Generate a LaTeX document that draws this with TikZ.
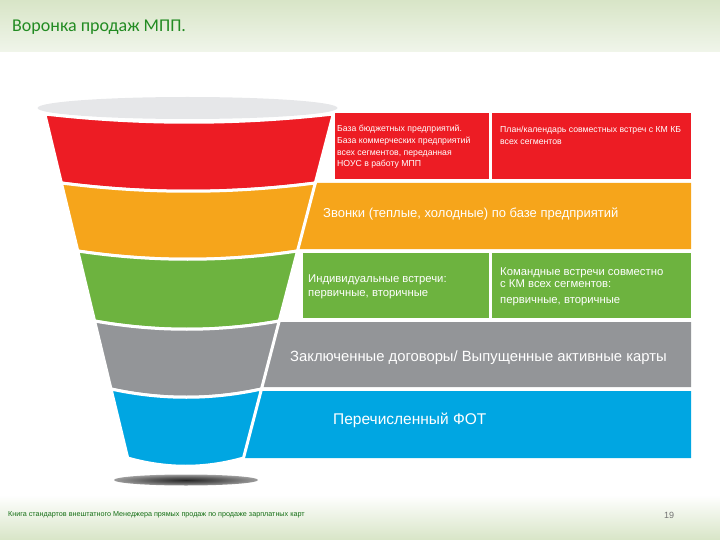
\documentclass[tikz,border=0pt]{standalone}
\usepackage{fontspec}
\setmainfont{Liberation Sans}
\newfontfamily\titlefont{Carlito}
\definecolor{funred}{RGB}{237,28,36}
\definecolor{funorange}{RGB}{246,165,27}
\definecolor{fungreen}{RGB}{109,179,63}
\definecolor{fungray}{RGB}{147,149,152}
\definecolor{funblue}{RGB}{0,166,226}
\definecolor{funrim}{RGB}{230,231,233}
\definecolor{titlegreen}{RGB}{34,139,34}
\definecolor{footgreen}{RGB}{20,110,20}
\definecolor{bandtop}{RGB}{216,229,199}
\definecolor{bandlow}{RGB}{240,245,234}
\pgfdeclareradialshading{funshadow}{\pgfpoint{0bp}{0bp}}{color(0bp)=(black!85); color(12bp)=(black!65); color(32bp)=(black!25); color(50bp)=(white)}
\tikzset{
	band/.style={draw=white,line width=3pt},
	boxtext/.style={anchor=base west,inner sep=0pt,text=white,align=left,font=\fontsize{8.7}{11.7}\selectfont}
}
\begin{document}
\begin{tikzpicture}[x=1pt,y=-1pt]
	\useasboundingbox (0,0) rectangle (720,540);
	\shade[top color=bandtop,bottom color=bandlow] (0,0) rectangle (720,52);
	\shade[top color=white,bottom color=bandtop] (0,495) rectangle (720,540);
	\node[anchor=base west,inner sep=0pt,text=titlegreen,font=\titlefont\fontsize{18}{20}\selectfont] (title) at (12,32) {Воронка продаж МПП.};

	\fill[funred] (335,113) rectangle (489,179);
	\fill[funred] (492,113) rectangle (691,179);
	\fill[funorange] (313.3,183) -- (691,183) -- (691,249) -- (296,249) -- cycle;
	\fill[fungreen] (303,253) rectangle (489,318);
	\fill[fungreen] (492,253) rectangle (691,318);
	\fill[fungray] (277,322) -- (691,322) -- (691,387) -- (260,387) -- cycle;
	\fill[funblue] (259,391) -- (691,391) -- (691,458) -- (241.5,458) -- cycle;

	\shade[shading=funshadow] (186,480) ellipse [x radius=72, y radius=5.5];
	\fill[funrim] (187.5,108) ellipse [x radius=150, y radius=11];
	\draw[band,fill=funred] (44.8,114) .. controls (141,125) and (237,125) .. (333.3,114)
		-- (315.3,183) .. controls (230.7,194) and (146,194) .. (61.4,183) -- cycle;
	\draw[band,fill=funorange] (61.4,183) .. controls (146,194) and (230.7,194) .. (315.3,183)
		-- (297.5,251) .. controls (224.3,262) and (151,262) .. (77.8,251) -- cycle;
	\draw[band,fill=fungreen] (77.8,251) .. controls (151,262) and (224.3,262) .. (297.5,251)
		-- (279.2,321) .. controls (217.7,332) and (156.1,332) .. (94.6,321) -- cycle;
	\draw[band,fill=fungray] (94.6,321) .. controls (156.1,332) and (217.7,332) .. (279.2,321)
		-- (261.5,389) .. controls (211.3,400) and (161.2,400) .. (111,389) -- cycle;
	\draw[band,fill=funblue] (111,389) .. controls (161.2,400) and (211.3,400) .. (261.5,389)
		-- (243.5,458) .. controls (204.9,469) and (166.3,469) .. (127.7,458) -- cycle;

	% multi-line nodes sit on the baseline of their last line
	\node[boxtext] (basetext) at (337,167) {База бюджетных предприятий.\\База коммерческих предприятий\\всех сегментов, переданная\\НОУС в работу МПП};
	\node[boxtext] (plantext) at (500,144.5) {План/календарь совместных встреч с КМ КБ\\всех сегментов};
	\node[boxtext,font=\fontsize{13}{15}\selectfont] (callstext) at (323,218) {Звонки (теплые, холодные) по базе предприятий};
	\node[boxtext,font=\fontsize{11.3}{14}\selectfont] (solotext) at (308,296) {Индивидуальные встречи:\\первичные, вторичные};
	\node[boxtext,font=\fontsize{11.3}{11.5}\selectfont] (teamtext) at (500,303) {Командные встречи совместно\\с КМ всех сегментов:\\[4.5pt]первичные, вторичные};
	\node[boxtext,font=\fontsize{14.8}{17}\selectfont] (dealtext) at (290,361) {Заключенные договоры/ Выпущенные активные карты};
	\node[boxtext,font=\fontsize{15.5}{17}\selectfont] (paytext) at (333,424) {Перечисленный ФОТ};

	\node[anchor=base west,inner sep=0pt,text=footgreen,font=\fontsize{7.2}{8}\selectfont] (booktext) at (8,516) {Книга стандартов внештатного Менеджера прямых продаж по продаже зарплатных карт};
	\node[anchor=base west,inner sep=0pt,text=black!55,font=\fontsize{9}{11}\selectfont] (pagenum) at (664,518) {19};
\end{tikzpicture}
\end{document}
